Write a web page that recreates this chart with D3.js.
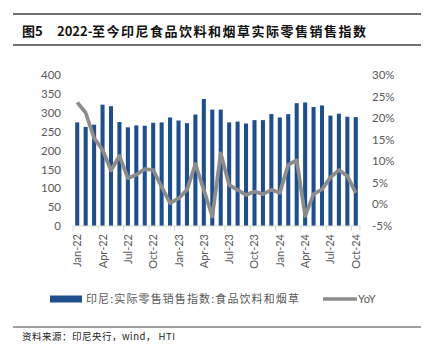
<!DOCTYPE html>
<html>
<head>
<meta charset="utf-8">
<script src="https://cdn.jsdelivr.net/npm/d3@7"></script>
<style>
  body { margin: 0; background: #fff; }
  svg { display: block; }
</style>
</head>
<body>
<div id="chart"></div>
<script>
// meses (Jan-22 .. Oct-24)
const months = ["Jan-22","Feb-22","Mar-22","Apr-22","May-22","Jun-22","Jul-22","Aug-22","Sep-22","Oct-22","Nov-22","Dec-22",
  "Jan-23","Feb-23","Mar-23","Apr-23","May-23","Jun-23","Jul-23","Aug-23","Sep-23","Oct-23","Nov-23","Dec-23",
  "Jan-24","Feb-24","Mar-24","Apr-24","May-24","Jun-24","Jul-24","Aug-24","Sep-24","Oct-24"];
// índice de ventas minoristas reales: alimentos, bebidas y tabaco
const indexValues = [275, 263, 269, 322, 318, 276, 262, 267, 266, 274, 275, 288,
  280, 273, 296, 337, 309, 309, 275, 277, 272, 281, 281, 297,
  288, 297, 326, 328, 316, 320, 293, 298, 290, 289];
// variación interanual (%)
const yoyValues = [23.7, 21.3, 15.4, 12.7, 7.9, 11.3, 6.1, 6.9, 8.2, 8.0, 4.1, 0.3,
  1.4, 3.4, 9.4, 3.4, -2.8, 11.9, 4.5, 3.4, 2.2, 3.0, 2.4, 3.4,
  2.7, 9.2, 10.3, -2.7, 2.4, 3.5, 6.3, 8.0, 6.6, 2.7];
const leftTicks = [0, 50, 100, 150, 200, 250, 300, 350, 400];
const rightTicks = [-5, 0, 5, 10, 15, 20, 25, 30];
const xLabels = ["Jan-22","Apr-22","Jul-22","Oct-22","Jan-23","Apr-23","Jul-23","Oct-23","Jan-24","Apr-24","Jul-24","Oct-24"];

const width = 423, height = 353;
const plotTop = 75.3, plotBottom = 226, plotLeft = 73, plotRight = 360;
const axisFont = "Lato, 'Liberation Sans', sans-serif";
const cjkFont = "'Noto Sans CJK SC', sans-serif";
const textColor = "#595959";

const svg = d3.select("#chart").append("svg")
  .attr("width", width).attr("height", height);

// título con líneas
svg.append("line").attr("x1", 13).attr("x2", 421).attr("y1", 14).attr("y2", 14)
  .attr("stroke", "#404040").attr("stroke-width", 1.3);
svg.append("line").attr("x1", 13).attr("x2", 421).attr("y1", 45).attr("y2", 45)
  .attr("stroke", "#404040").attr("stroke-width", 1.3);
const title = svg.append("g")
  .attr("font-family", cjkFont).attr("font-weight", "bold").attr("font-size", 13).attr("fill", "#111");
title.append("text").attr("x", 22).attr("y", 35.5).text("图5");
title.append("text").attr("x", 57).attr("y", 35.5).text("2022-");
title.append("text").attr("x", 92).attr("y", 35.5).attr("letter-spacing", 1.5)
  .text("至今印尼食品饮料和烟草实际零售销售指数");

// escalas
const x = d3.scaleBand().domain(months).range([plotLeft, plotRight]).paddingInner(0.52).paddingOuter(0.26);
const y = d3.scaleLinear().domain([0, 400]).range([plotBottom, plotTop]);
const y2 = d3.scaleLinear().domain([-5, 30]).range([plotBottom, plotTop]);

// barras
svg.append("g").selectAll("rect").data(months).join("rect")
  .attr("x", d => x(d))
  .attr("y", (d, i) => y(indexValues[i]))
  .attr("width", x.bandwidth())
  .attr("height", (d, i) => y(0) - y(indexValues[i]))
  .attr("fill", "#1f4e8c");

// eje x
const step = x.step();
svg.append("line").attr("x1", plotLeft).attr("x2", plotRight).attr("y1", plotBottom).attr("y2", plotBottom)
  .attr("stroke", "#d9d9d9").attr("stroke-width", 1);
const tickIdx = Array.from(new Set(d3.range(0, months.length + 1, 3).concat([months.length])));
svg.append("g").selectAll("line").data(tickIdx).join("line")
  .attr("x1", d => plotLeft + d * step).attr("x2", d => plotLeft + d * step)
  .attr("y1", plotBottom).attr("y2", plotBottom + 5)
  .attr("stroke", "#d9d9d9");
svg.append("g").selectAll("text").data(xLabels).join("text")
  .attr("transform", d => `translate(${x(d) + x.bandwidth() / 2 + 4},${plotBottom + 8}) rotate(-90)`)
  .attr("text-anchor", "end")
  .attr("font-family", axisFont).attr("font-size", 11).attr("fill", textColor)
  .text(d => d);

// eje izquierdo
svg.append("g").selectAll("text").data(leftTicks).join("text")
  .attr("x", 61).attr("y", d => y(d)).attr("dy", "0.35em")
  .attr("text-anchor", "end")
  .attr("font-family", axisFont).attr("font-size", 11.5).attr("fill", textColor)
  .text(d => d);

// eje derecho
svg.append("g").selectAll("text").data(rightTicks).join("text")
  .attr("x", 372).attr("y", d => y2(d)).attr("dy", "0.35em")
  .attr("text-anchor", "start")
  .attr("font-family", axisFont).attr("font-size", 11.5).attr("fill", textColor)
  .text(d => d + "%");

// línea YoY
const line = d3.line()
  .x((d, i) => x(months[i]) + x.bandwidth() / 2)
  .y(d => y2(d));
svg.append("path").datum(yoyValues)
  .attr("fill", "none").attr("stroke", "#8c8c8c").attr("stroke-width", 3.7)
  .attr("stroke-linejoin", "round")
  .attr("d", line);

// leyenda
const ly = 299;
svg.append("rect").attr("x", 50).attr("y", ly - 3.5).attr("width", 32).attr("height", 7).attr("fill", "#1f4e8c");
svg.append("text").attr("x", 86).attr("y", ly).attr("dy", "0.35em")
  .attr("font-family", cjkFont).attr("font-size", 11).attr("fill", textColor)
  .attr("letter-spacing", 1.1)
  .text("印尼:实际零售销售指数:食品饮料和烟草");
svg.append("line").attr("x1", 323).attr("x2", 357).attr("y1", ly).attr("y2", ly)
  .attr("stroke", "#8c8c8c").attr("stroke-width", 3.7);
svg.append("text").attr("x", 358).attr("y", ly).attr("dy", "0.35em")
  .attr("font-family", axisFont).attr("font-size", 11).attr("fill", textColor)
  .text("YoY");

// fuente
svg.append("line").attr("x1", 13).attr("x2", 421).attr("y1", 327).attr("y2", 327)
  .attr("stroke", "#404040").attr("stroke-width", 1);
svg.append("text").attr("x", 22).attr("y", 339.5)
  .attr("font-family", cjkFont).attr("font-size", 9.5).attr("fill", "#222")
  .attr("letter-spacing", 0.5)
  .text("资料来源：印尼央行，wind， HTI");
</script>
</body>
</html>
